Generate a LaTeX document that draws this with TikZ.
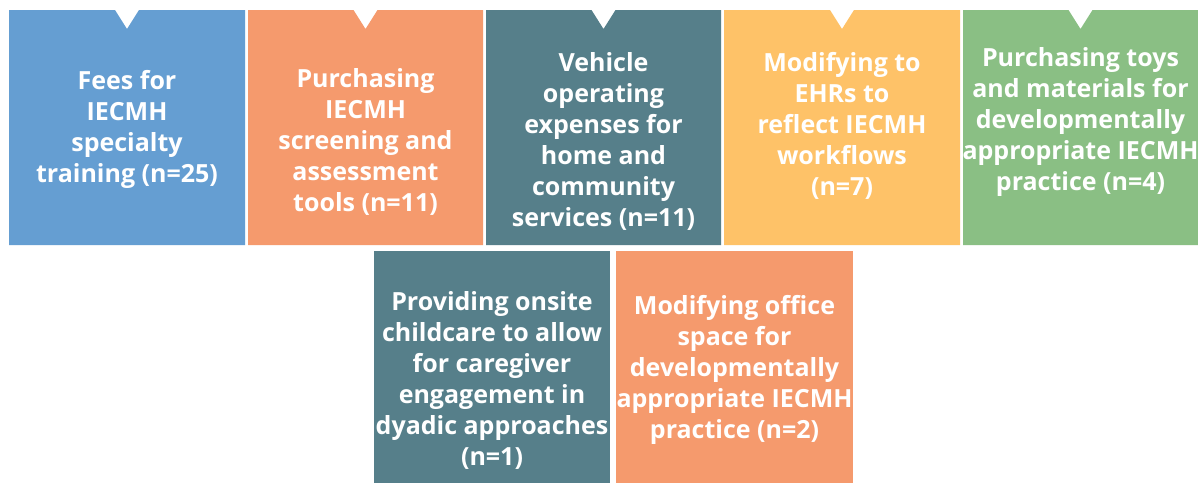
\documentclass[tikz,border=0pt]{standalone}
\usepackage{fontspec}
\setmainfont{Open Sans}
\definecolor{cblue}{HTML}{659ED2}
\definecolor{corange}{HTML}{F59A6D}
\definecolor{cteal}{HTML}{567F8A}
\definecolor{cyellow}{HTML}{FEC268}
\definecolor{cgreen}{HTML}{8ABF84}
\begin{document}
\begin{tikzpicture}[x=1pt,y=-1pt,
  lbl/.style={text=white, font=\fontsize{25}{31}\selectfont\bfseries, align=center, inner sep=0pt}]
\useasboundingbox (0,0) rectangle (1198,483);
\fill[white] (0,0) rectangle (1198,483);
% top row with notches
\fill[cblue]   (9,10) -- (115,10) -- (127,29) -- (139,10) -- (245,10) -- (245,245) -- (9,245) -- cycle;
\fill[corange] (248,10) -- (353.5,10) -- (365.5,29) -- (377.5,10) -- (483,10) -- (483,245) -- (248,245) -- cycle;
\fill[cteal]   (486,10) -- (591.5,10) -- (603.5,29) -- (615.5,10) -- (721,10) -- (721,245) -- (486,245) -- cycle;
\fill[cyellow] (724,10) -- (830,10) -- (842,29) -- (854,10) -- (960,10) -- (960,245) -- (724,245) -- cycle;
\fill[cgreen]  (963,10) -- (1068.5,10) -- (1080.5,29) -- (1092.5,10) -- (1198,10) -- (1198,245) -- (963,245) -- cycle;
% bottom row
\fill[cteal]   (374,251) rectangle (610,483);
\fill[corange] (616,251) rectangle (853,483);
% labels
\node[lbl] (t1) at (127,129) {Fees for\\IECMH\\specialty\\training (n=25)};
\node[lbl] (t2) at (365.5,142) {Purchasing\\IECMH\\screening and\\assessment\\tools (n=11)};
\node[lbl] (t3) at (603.5,141) {Vehicle\\operating\\expenses for\\home and\\community\\services (n=11)};
\node[lbl] (t4) at (842,126) {Modifying to\\EHRs to\\reflect IECMH\\workflows\\(n=7)};
\node[lbl] (t5) at (1080.5,122) {Purchasing toys\\and materials for\\developmentally\\appropriate IECMH\\practice (n=4)};
\node[lbl] (t6) at (492,380) {Providing onsite\\childcare to allow\\for caregiver\\engagement in\\dyadic approaches\\(n=1)};
\node[lbl] (t7) at (734.5,370) {Modifying office\\space for\\developmentally\\appropriate IECMH\\practice (n=2)};
\end{tikzpicture}
\end{document}
